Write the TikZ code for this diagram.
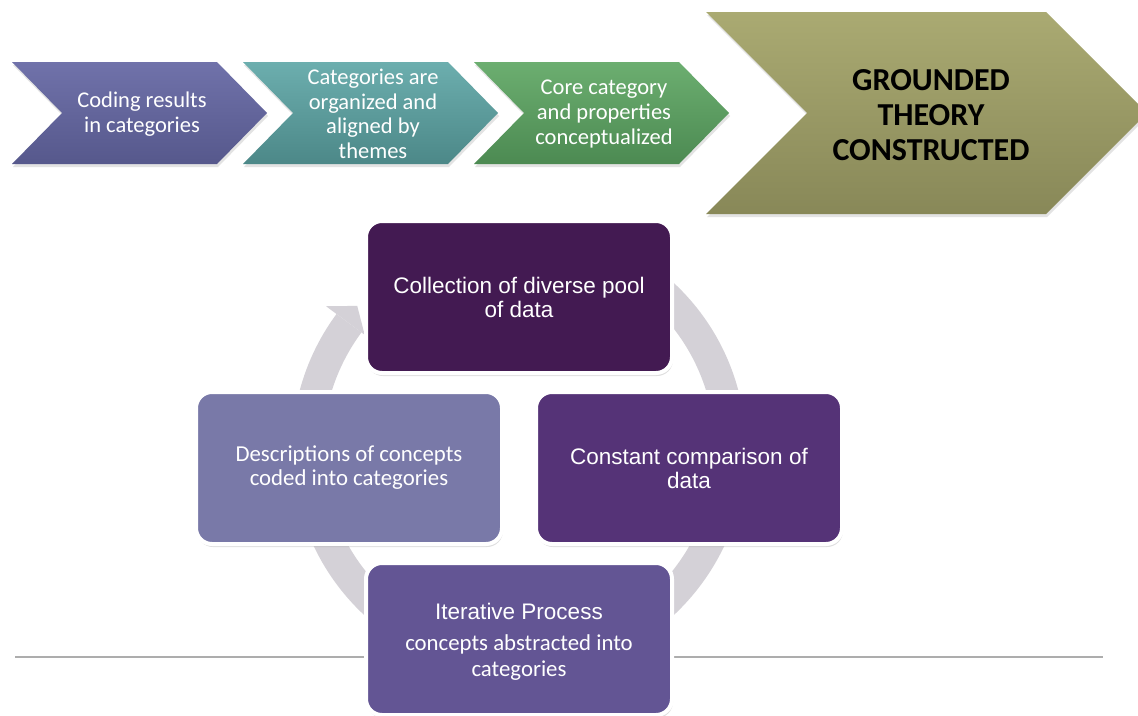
\documentclass[tikz,border=0pt]{standalone}
\usepackage{fontspec}
\setmainfont{Carlito}
\newfontfamily\arialf{Liberation Sans}
\usetikzlibrary{shadows}
\definecolor{cat}{HTML}{7072AA}
\definecolor{cab}{HTML}{56588C}
\definecolor{cbt}{HTML}{6CAEAE}
\definecolor{cbb}{HTML}{4C8888}
\definecolor{cct}{HTML}{6CAE70}
\definecolor{ccb}{HTML}{4C8A52}
\definecolor{cdt}{HTML}{AAAA72}
\definecolor{cdb}{HTML}{888858}
\definecolor{topc}{HTML}{431A52}
\definecolor{rightc}{HTML}{553377}
\definecolor{leftc}{HTML}{7979A8}
\definecolor{botc}{HTML}{635594}
\definecolor{ringc}{HTML}{D4D1D7}
\definecolor{linec}{HTML}{ADADAD}
\tikzset{
  chev/.style={drop shadow={opacity=0.22, shadow xshift=1pt, shadow yshift=-3pt}},
  chevtext/.style={text=white, align=center, font=\fontsize{22.5}{24.6}\selectfont, inner sep=0pt},
  bigtext/.style={text=black, align=center, font=\bfseries\fontsize{32}{35}\selectfont, inner sep=0pt},
  cbox/.style={rounded corners=16pt, minimum width=306pt, minimum height=152pt, draw=white,
    line width=4pt, align=center, text=white, inner sep=0pt,
    drop shadow={opacity=0.25, shadow xshift=1pt, shadow yshift=-3pt}},
  arialtxt/.style={font=\arialf\fontsize{22.5}{24}\selectfont},
  caltxt/.style={font=\fontsize{22.8}{24}\selectfont}
}
\begin{document}
\begin{tikzpicture}[x=1pt,y=-1pt]
\useasboundingbox (0,0) rectangle (1138,715);
\clip (0,0) rectangle (1138,715);
\fill[white] (0,0) rectangle (1138,715);
% chevrons
\path[chev, top color=cat, bottom color=cab] (12,62) -- (217,62) -- (267,113) -- (217,164) -- (12,164) -- (62,113) -- cycle;
\path[chev, top color=cbt, bottom color=cbb] (243,62) -- (448,62) -- (498,113) -- (448,164) -- (243,164) -- (293,113) -- cycle;
\path[chev, top color=cct, bottom color=ccb] (474,62) -- (679,62) -- (729,113) -- (679,164) -- (474,164) -- (524,113) -- cycle;
\path[chev, top color=cdt, bottom color=cdb] (706,12) -- (1046,12) -- (1147,113) -- (1046,214) -- (706,214) -- (807,113) -- cycle;
\node[chevtext] (t1) at (142,114) {Coding results\\in categories};
\node[chevtext] (t2) at (373,114) {Categories are\\organized and\\aligned by\\themes};
\node[chevtext] (t3) at (604,114) {Core category\\and properties\\conceptualized};
\node[bigtext] (t4) at (931,115) {GROUNDED\\THEORY\\CONSTRUCTED};
% horizontal rule
\coordinate (hl1) at (15,657);
\coordinate (hl2) at (1103,657);
\draw[line width=2pt, linec] (hl1) -- (hl2);
% ring with arrow
\begin{scope}[shift={(519,449)}]
\fill[ringc] (-100:227) arc[start angle=-100, end angle=216.5, radius=227] -- (216.5:196) arc[start angle=216.5, end angle=-100, radius=196] -- cycle;
\fill[ringc] (216.5:192) -- (221.5:216) -- (216.5:240) -- cycle;
\end{scope}
% boxes
\node[cbox, fill=topc, arialtxt] (collect) at (519,297) {Collection of diverse pool\\of data};
\node[cbox, fill=rightc, arialtxt] (compare) at (689,468) {Constant comparison of\\data};
\node[cbox, fill=leftc, caltxt] (describe) at (349,468) {Descriptions of concepts\\coded into categories};
\node[cbox, fill=botc, caltxt] (iterate) at (519,639) {};
\node[text=white, inner sep=0pt, arialtxt] (itertitle) at (519,611) {Iterative Process};
\node[text=white, inner sep=0pt, align=center, font=\fontsize{22.8}{26}\selectfont] (itertext) at (519,658) {concepts abstracted into\\categories};
\end{tikzpicture}
\end{document}
